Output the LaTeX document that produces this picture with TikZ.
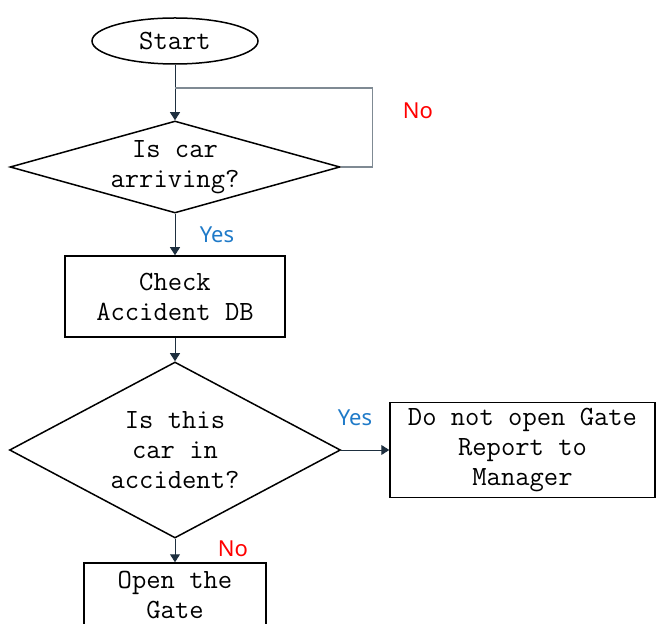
\documentclass[tikz,border=0pt]{standalone}
\usepackage{fontspec}
\usepackage{xcolor}
\newfontfamily\flowsans{Noto Sans}
\definecolor{arrowInk}  {HTML}{1E2F3F}
\definecolor{loopInk}   {HTML}{7F8A93}
\definecolor{yesBlue}   {HTML}{1F7AC8}
\definecolor{noRed}     {HTML}{FF0000}
\usetikzlibrary{arrows.meta, shapes.geometric}
\tikzset{
    block/.style={draw, line width=0.75pt, align=center, inner sep=0pt,
                  font=\fontsize{13.9}{15}\selectfont\ttfamily},
    terminal/.style={block, ellipse, minimum width=83pt, minimum height=23pt},
    process/.style={block, rectangle},
    decision/.style={block, diamond},
    flow/.style={-{Triangle[length=4pt, width=5pt]}, line width=0.5pt, arrowInk},
    loopline/.style={-, line width=0.6pt, loopInk},
    yeslabel/.style={font=\fontsize{11}{13}\selectfont\flowsans, text=yesBlue},
    nolabel/.style={font=\fontsize{11}{13}\selectfont\flowsans, text=noRed},
}

\begin{document}
\begin{tikzpicture}[x=1pt, y=1pt]
    \useasboundingbox (0,0) rectangle (328,-312);
    \node[terminal] (start) at (87.5,-20.5) {Start};
    \node[decision, aspect=3.6, minimum width=165pt, minimum height=46pt] (arrive) at (87.5,-83.5) {Is car\\arriving?};
    \node[process, minimum width=110pt, minimum height=40.5pt] (check) at (87.5,-148.25) {Check\\Accident DB};
    \node[decision, aspect=1.88, minimum width=165.5pt, minimum height=88pt] (accident) at (87.5,-225) {Is this\\car in\\accident?};
    \node[process, minimum width=132.5pt, minimum height=47.5pt] (report) at (261.25,-225) {Do not open Gate\\Report to\\Manager};
    \node[process, minimum width=91pt, minimum height=31.5pt] (open) at (87.5,-297.25) {Open the\\Gate};
    \coordinate (loopjoin) at (87.5,-44);
    \draw[flow] (start) -- (arrive);
    \draw[loopline] (arrive.east) -- ++(16,0) |- (loopjoin);
    \draw[flow] (arrive) -- (check);
    \draw[flow] (check) -- (accident);
    \draw[flow] (accident) -- (report);
    \draw[flow] (accident) -- (open);
    \node[nolabel] (noloop) at (209,-55.5) {No};
    \node[yeslabel] (yesdown) at (108.5,-117.5) {Yes};
    \node[yeslabel] (yesright) at (177.5,-209) {Yes};
    \node[nolabel] (nodown) at (116.5,-274.5) {No};
\end{tikzpicture}
\end{document}
